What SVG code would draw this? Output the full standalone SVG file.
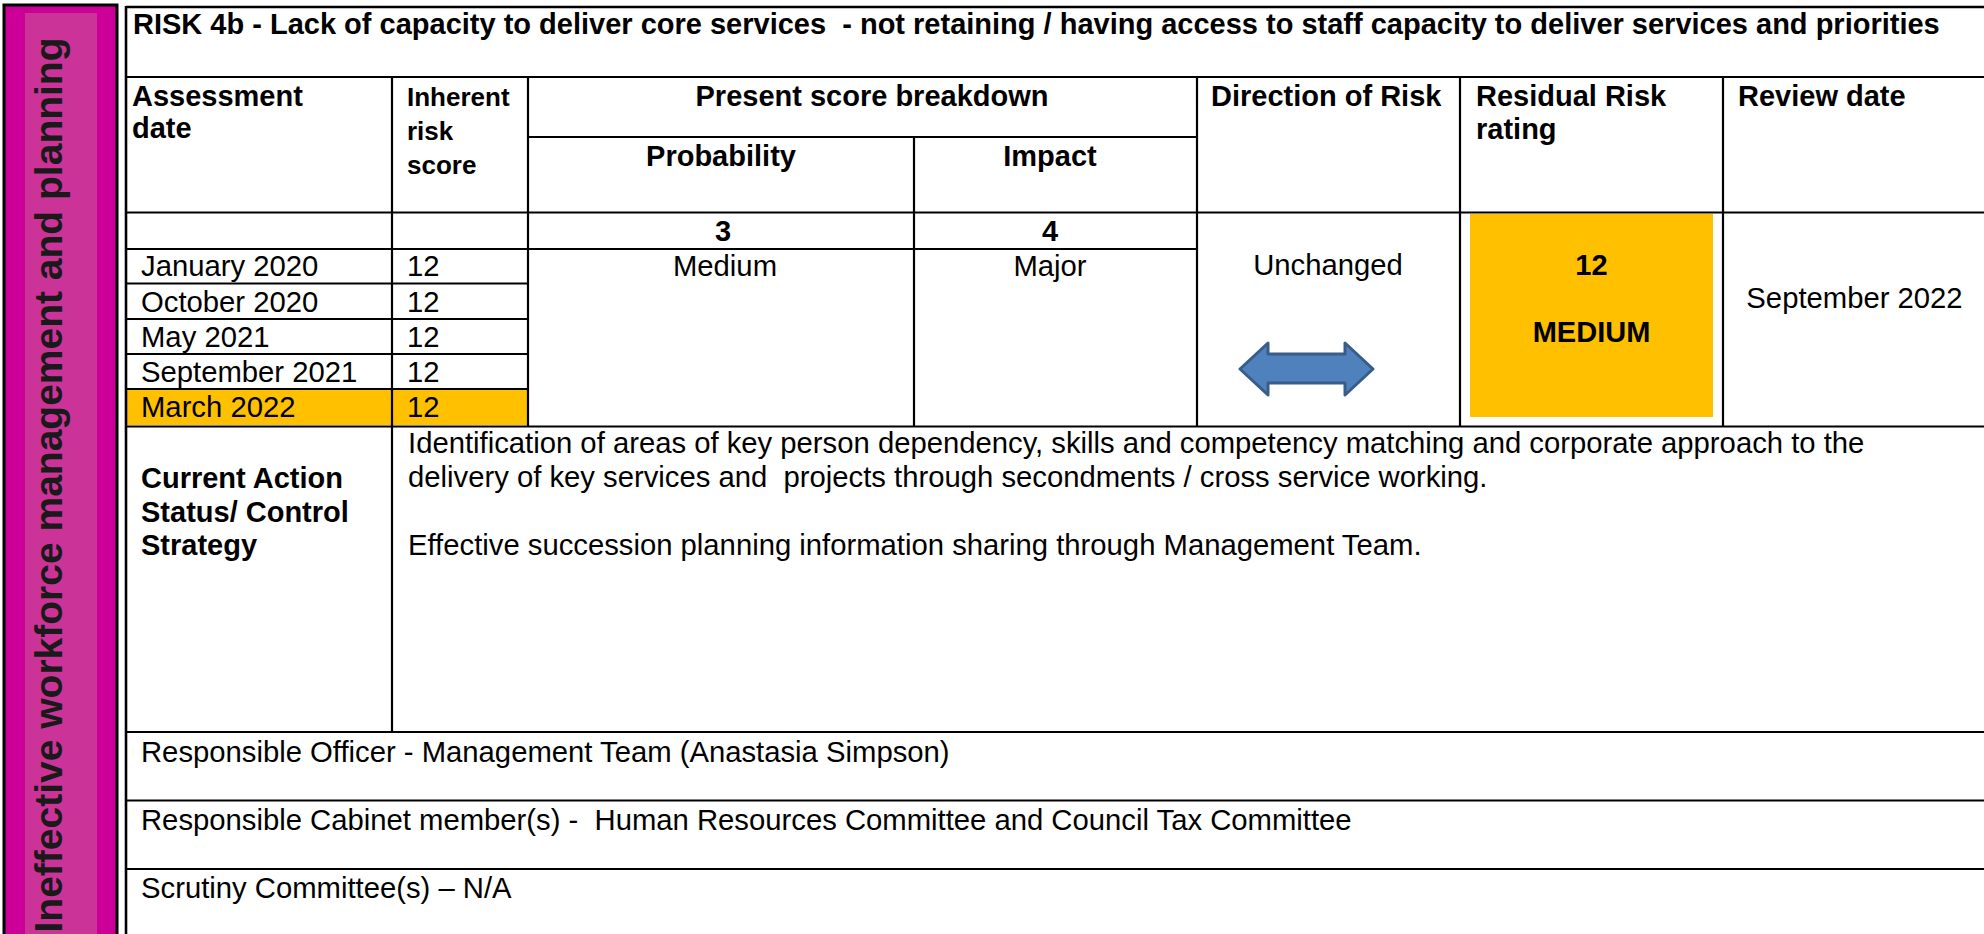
<svg xmlns="http://www.w3.org/2000/svg" width="1984" height="934" viewBox="0 0 1984 934">
<style>
text{font-family:"Liberation Sans",Arial,sans-serif;font-size:29.25px;fill:#000;white-space:pre}
.b{font-weight:bold;font-size:29px}
.c{text-anchor:middle}
.cal{font-size:26px;font-weight:bold}
.ln{stroke:#000;stroke-width:2.2;fill:none}
.lnb{stroke:#000;stroke-width:2.6;fill:none}
.side{font-size:39px;font-weight:bold;fill:#1a1a1a}
</style>
<rect x="0" y="0" width="1984" height="934" fill="#fff"/>
<g id="side-bar">
<rect x="4" y="5" width="113" height="935" fill="#CC0099" stroke="#000" stroke-width="3"/>
<rect x="25" y="13" width="72" height="930" fill="#CC3399"/>
<text class="side c" transform="translate(62,485) rotate(-90)">Ineffective workforce management and planning</text>
</g>
<g id="fills">
<rect x="127" y="390" width="400" height="35" fill="#FFC000"/>
<rect x="1470" y="214" width="243" height="203" fill="#FFC000"/>
</g>
<g id="connectors">
<line class="lnb" x1="126" y1="7" x2="1984" y2="7"/>
<line class="lnb" x1="126" y1="6" x2="126" y2="934"/>
<line class="ln" x1="126" y1="77" x2="1984" y2="77"/>
<line class="ln" x1="528" y1="137" x2="1197" y2="137"/>
<line class="ln" x1="126" y1="212.5" x2="1984" y2="212.5"/>
<line class="ln" x1="126" y1="249" x2="1197" y2="249"/>
<line class="ln" x1="126" y1="283.5" x2="528" y2="283.5"/>
<line class="ln" x1="126" y1="319" x2="528" y2="319"/>
<line class="ln" x1="126" y1="354" x2="528" y2="354"/>
<line class="ln" x1="126" y1="389" x2="528" y2="389"/>
<line class="ln" x1="126" y1="426.5" x2="1984" y2="426.5"/>
<line class="ln" x1="126" y1="732" x2="1984" y2="732"/>
<line class="ln" x1="126" y1="800.5" x2="1984" y2="800.5"/>
<line class="ln" x1="126" y1="869" x2="1984" y2="869"/>
<line class="ln" x1="392" y1="77" x2="392" y2="732"/>
<line class="ln" x1="528" y1="77" x2="528" y2="426.5"/>
<line class="ln" x1="914" y1="137" x2="914" y2="426.5"/>
<line class="ln" x1="1197" y1="77" x2="1197" y2="426.5"/>
<line class="ln" x1="1460" y1="77" x2="1460" y2="426.5"/>
<line class="ln" x1="1723" y1="77" x2="1723" y2="426.5"/>
</g>
<g id="title">
<text class="b" x="133" y="34">RISK 4b - Lack of capacity to deliver core services  - not retaining / having access to staff capacity to deliver services and priorities</text>
</g>
<g id="hdr-assessment">
<text class="b" x="132" y="106">Assessment</text>
<text class="b" x="132" y="138">date</text>
</g>
<g id="hdr-inherent">
<text class="cal" x="407" y="106">Inherent</text>
<text class="cal" x="407" y="140">risk</text>
<text class="cal" x="407" y="174">score</text>
</g>
<g id="hdr-present">
<text class="b c" x="872" y="106">Present score breakdown</text>
</g>
<g id="hdr-probability">
<text class="b c" x="721" y="166">Probability</text>
</g>
<g id="hdr-impact">
<text class="b c" x="1050" y="166">Impact</text>
</g>
<g id="hdr-direction">
<text class="b" x="1211" y="106">Direction of Risk</text>
</g>
<g id="hdr-residual">
<text class="b" x="1476" y="106">Residual Risk</text>
<text class="b" x="1476" y="139">rating</text>
</g>
<g id="hdr-review">
<text class="b" x="1738" y="106">Review date</text>
</g>
<g id="scores">
<text class="b c" x="723" y="241">3</text>
<text class="b c" x="1050" y="241">4</text>
</g>
<g id="dates">
<text x="141" y="276">January 2020</text>
<text x="141" y="311.5">October 2020</text>
<text x="141" y="346.5">May 2021</text>
<text x="141" y="381.5">September 2021</text>
<text x="141" y="417">March 2022</text>
<text x="407" y="276">12</text>
<text x="407" y="311.5">12</text>
<text x="407" y="346.5">12</text>
<text x="407" y="381.5">12</text>
<text x="407" y="417">12</text>
</g>
<g id="probability">
<text class="c" x="725" y="276">Medium</text>
</g>
<g id="impact">
<text class="c" x="1050" y="276">Major</text>
</g>
<g id="direction">
<text class="c" x="1328" y="275">Unchanged</text>
<polygon points="1240,369 1268,343 1268,354 1345,354 1345,343 1373,369 1345,395 1345,383 1268,383 1268,395" fill="#4F81BD" stroke="#385D8A" stroke-width="3" stroke-linejoin="round"/>
</g>
<g id="residual">
<text class="b c" x="1591.5" y="275">12</text>
<text class="b c" x="1591.5" y="342">MEDIUM</text>
</g>
<g id="review">
<text class="c" x="1854.5" y="308">September 2022</text>
</g>
<g id="current-action">
<text class="b" x="141" y="488">Current Action</text>
<text class="b" x="141" y="521.5">Status/ Control</text>
<text class="b" x="141" y="555">Strategy</text>
<text x="408" y="453">Identification of areas of key person dependency, skills and competency matching and corporate approach to the</text>
<text x="408" y="487">delivery of key services and  projects through secondments / cross service working.</text>
<text x="408" y="555">Effective succession planning information sharing through Management Team.</text>
</g>
<g id="officer">
<text x="141" y="762">Responsible Officer - Management Team (Anastasia Simpson)</text>
</g>
<g id="cabinet">
<text x="141" y="830">Responsible Cabinet member(s) -  Human Resources Committee and Council Tax Committee</text>
</g>
<g id="scrutiny">
<text x="141" y="898">Scrutiny Committee(s) – N/A</text>
</g>
</svg>
